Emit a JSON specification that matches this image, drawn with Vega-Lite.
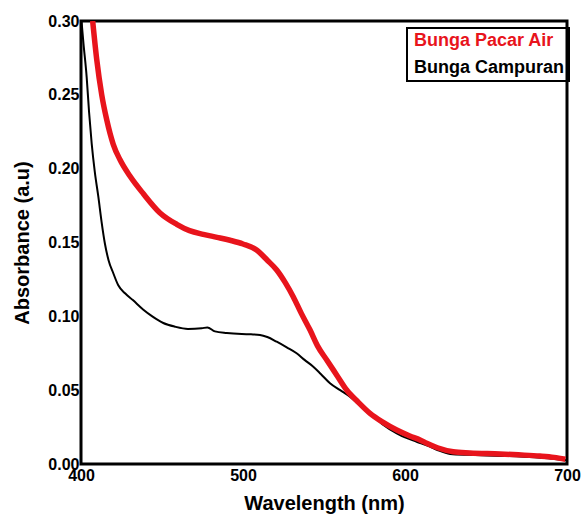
{
  "$schema": "https://vega.github.io/schema/vega-lite/v6.json",
  "autosize": "none",
  "width": 486,
  "height": 443,
  "padding": {"left": 81, "top": 21, "right": 17, "bottom": 62},
  "background": "white",
  "config": {
    "font": "Liberation Sans",
    "view": {"stroke": "black", "strokeWidth": 3},
    "axis": {
      "domain": false, "grid": false, "ticks": false,
      "labelFont": "Liberation Sans", "labelFontSize": 16, "labelFontWeight": "bold", "labelColor": "black",
      "titleFont": "Liberation Sans", "titleFontSize": 20, "titleFontWeight": "bold", "titleColor": "black"
    }
  },
  "data": {
    "values": [
      {"wl": 400.3, "abs": 0.300, "s": "Bunga Campuran"},
      {"wl": 401.5, "abs": 0.285, "s": "Bunga Campuran"},
      {"wl": 403.5, "abs": 0.262, "s": "Bunga Campuran"},
      {"wl": 405.0, "abs": 0.238, "s": "Bunga Campuran"},
      {"wl": 406.6, "abs": 0.217, "s": "Bunga Campuran"},
      {"wl": 408.5, "abs": 0.198, "s": "Bunga Campuran"},
      {"wl": 410.7, "abs": 0.181, "s": "Bunga Campuran"},
      {"wl": 412.7, "abs": 0.164, "s": "Bunga Campuran"},
      {"wl": 414.8, "abs": 0.149, "s": "Bunga Campuran"},
      {"wl": 417.0, "abs": 0.138, "s": "Bunga Campuran"},
      {"wl": 420.0, "abs": 0.129, "s": "Bunga Campuran"},
      {"wl": 423.0, "abs": 0.121, "s": "Bunga Campuran"},
      {"wl": 427.2, "abs": 0.1156, "s": "Bunga Campuran"},
      {"wl": 432.0, "abs": 0.111, "s": "Bunga Campuran"},
      {"wl": 438.5, "abs": 0.1045, "s": "Bunga Campuran"},
      {"wl": 444.0, "abs": 0.100, "s": "Bunga Campuran"},
      {"wl": 450.8, "abs": 0.0955, "s": "Bunga Campuran"},
      {"wl": 458.0, "abs": 0.093, "s": "Bunga Campuran"},
      {"wl": 466.0, "abs": 0.0915, "s": "Bunga Campuran"},
      {"wl": 474.5, "abs": 0.0919, "s": "Bunga Campuran"},
      {"wl": 478.0, "abs": 0.0925, "s": "Bunga Campuran"},
      {"wl": 482.7, "abs": 0.0898, "s": "Bunga Campuran"},
      {"wl": 490.0, "abs": 0.0887, "s": "Bunga Campuran"},
      {"wl": 499.2, "abs": 0.0880, "s": "Bunga Campuran"},
      {"wl": 505.0, "abs": 0.0878, "s": "Bunga Campuran"},
      {"wl": 510.5, "abs": 0.0874, "s": "Bunga Campuran"},
      {"wl": 515.0, "abs": 0.0860, "s": "Bunga Campuran"},
      {"wl": 520.8, "abs": 0.0828, "s": "Bunga Campuran"},
      {"wl": 527.0, "abs": 0.079, "s": "Bunga Campuran"},
      {"wl": 533.1, "abs": 0.075, "s": "Bunga Campuran"},
      {"wl": 538.0, "abs": 0.0705, "s": "Bunga Campuran"},
      {"wl": 543.4, "abs": 0.0659, "s": "Bunga Campuran"},
      {"wl": 548.0, "abs": 0.061, "s": "Bunga Campuran"},
      {"wl": 553.7, "abs": 0.0547, "s": "Bunga Campuran"},
      {"wl": 560.0, "abs": 0.050, "s": "Bunga Campuran"},
      {"wl": 566.0, "abs": 0.0456, "s": "Bunga Campuran"},
      {"wl": 572.0, "abs": 0.040, "s": "Bunga Campuran"},
      {"wl": 578.4, "abs": 0.0343, "s": "Bunga Campuran"},
      {"wl": 586.0, "abs": 0.0270, "s": "Bunga Campuran"},
      {"wl": 594.9, "abs": 0.0208, "s": "Bunga Campuran"},
      {"wl": 600.0, "abs": 0.018, "s": "Bunga Campuran"},
      {"wl": 607.2, "abs": 0.0151, "s": "Bunga Campuran"},
      {"wl": 615.0, "abs": 0.012, "s": "Bunga Campuran"},
      {"wl": 620.0, "abs": 0.0095, "s": "Bunga Campuran"},
      {"wl": 627.8, "abs": 0.0068, "s": "Bunga Campuran"},
      {"wl": 640.0, "abs": 0.0062, "s": "Bunga Campuran"},
      {"wl": 660.0, "abs": 0.0055, "s": "Bunga Campuran"},
      {"wl": 680.0, "abs": 0.0045, "s": "Bunga Campuran"},
      {"wl": 700.0, "abs": 0.0025, "s": "Bunga Campuran"},
      {"wl": 407.2, "abs": 0.300, "s": "Bunga Pacar Air"},
      {"wl": 409.7, "abs": 0.274, "s": "Bunga Pacar Air"},
      {"wl": 412.8, "abs": 0.250, "s": "Bunga Pacar Air"},
      {"wl": 415.9, "abs": 0.233, "s": "Bunga Pacar Air"},
      {"wl": 419.9, "abs": 0.2165, "s": "Bunga Pacar Air"},
      {"wl": 424.1, "abs": 0.206, "s": "Bunga Pacar Air"},
      {"wl": 430.2, "abs": 0.195, "s": "Bunga Pacar Air"},
      {"wl": 438.5, "abs": 0.1830, "s": "Bunga Pacar Air"},
      {"wl": 448.8, "abs": 0.170, "s": "Bunga Pacar Air"},
      {"wl": 459.1, "abs": 0.1623, "s": "Bunga Pacar Air"},
      {"wl": 467.0, "abs": 0.158, "s": "Bunga Pacar Air"},
      {"wl": 475.5, "abs": 0.1555, "s": "Bunga Pacar Air"},
      {"wl": 484.0, "abs": 0.1535, "s": "Bunga Pacar Air"},
      {"wl": 492.0, "abs": 0.1515, "s": "Bunga Pacar Air"},
      {"wl": 500.0, "abs": 0.149, "s": "Bunga Pacar Air"},
      {"wl": 508.4, "abs": 0.1449, "s": "Bunga Pacar Air"},
      {"wl": 515.0, "abs": 0.138, "s": "Bunga Pacar Air"},
      {"wl": 520.8, "abs": 0.1314, "s": "Bunga Pacar Air"},
      {"wl": 526.0, "abs": 0.123, "s": "Bunga Pacar Air"},
      {"wl": 531.0, "abs": 0.1133, "s": "Bunga Pacar Air"},
      {"wl": 536.0, "abs": 0.102, "s": "Bunga Pacar Air"},
      {"wl": 541.4, "abs": 0.0907, "s": "Bunga Pacar Air"},
      {"wl": 546.0, "abs": 0.080, "s": "Bunga Pacar Air"},
      {"wl": 551.7, "abs": 0.0704, "s": "Bunga Pacar Air"},
      {"wl": 558.0, "abs": 0.060, "s": "Bunga Pacar Air"},
      {"wl": 564.0, "abs": 0.0501, "s": "Bunga Pacar Air"},
      {"wl": 571.0, "abs": 0.042, "s": "Bunga Pacar Air"},
      {"wl": 578.4, "abs": 0.0343, "s": "Bunga Pacar Air"},
      {"wl": 586.0, "abs": 0.0285, "s": "Bunga Pacar Air"},
      {"wl": 594.9, "abs": 0.023, "s": "Bunga Pacar Air"},
      {"wl": 603.0, "abs": 0.019, "s": "Bunga Pacar Air"},
      {"wl": 609.3, "abs": 0.0163, "s": "Bunga Pacar Air"},
      {"wl": 613.4, "abs": 0.014, "s": "Bunga Pacar Air"},
      {"wl": 620.0, "abs": 0.011, "s": "Bunga Pacar Air"},
      {"wl": 629.8, "abs": 0.0083, "s": "Bunga Pacar Air"},
      {"wl": 640.0, "abs": 0.0075, "s": "Bunga Pacar Air"},
      {"wl": 658.6, "abs": 0.0068, "s": "Bunga Pacar Air"},
      {"wl": 670.0, "abs": 0.0062, "s": "Bunga Pacar Air"},
      {"wl": 683.3, "abs": 0.0054, "s": "Bunga Pacar Air"},
      {"wl": 692.0, "abs": 0.0045, "s": "Bunga Pacar Air"},
      {"wl": 699.0, "abs": 0.0032, "s": "Bunga Pacar Air"}
    ]
  },
  "encoding": {
    "x": {
      "field": "wl", "type": "quantitative", "title": "Wavelength (nm)",
      "scale": {"domain": [400, 700], "nice": false, "zero": false},
      "axis": {"values": [400, 500, 600, 700], "labelPadding": 3, "titlePadding": 10, "labelFlush": false}
    },
    "y": {
      "field": "abs", "type": "quantitative", "title": "Absorbance (a.u)",
      "scale": {"domain": [0, 0.3], "nice": false},
      "axis": {"values": [0, 0.05, 0.1, 0.15, 0.2, 0.25, 0.3], "format": ".2f", "labelPadding": 2, "titlePadding": 15, "labelFlush": false}
    },
    "color": {
      "field": "s", "type": "nominal",
      "scale": {"domain": ["Bunga Pacar Air", "Bunga Campuran"], "range": ["#e8141c", "black"]},
      "legend": {
        "title": null, "orient": "none", "legendX": 326, "legendY": 7,
        "symbolSize": 0, "symbolOpacity": 0, "symbolStrokeWidth": 0, "labelOffset": -15,
        "labelFont": "Liberation Sans", "labelFontSize": 18, "labelFontWeight": "bold",
        "rowPadding": 9, "padding": 4, "strokeColor": "black",
        "encode": {
          "labels": {"update": {"fill": {"signal": "datum.value === 'Bunga Pacar Air' ? '#e8141c' : 'black'"}}},
          "legend": {"update": {"strokeWidth": {"value": 2}}}
        }
      }
    }
  },
  "layer": [
    {"transform": [{"filter": "datum.s === 'Bunga Campuran'"}], "mark": {"type": "line", "strokeWidth": 2, "clip": true, "interpolate": "monotone"}},
    {"transform": [{"filter": "datum.s === 'Bunga Pacar Air'"}], "mark": {"type": "line", "strokeWidth": 5.5, "clip": true, "interpolate": "monotone"}}
  ]
}
